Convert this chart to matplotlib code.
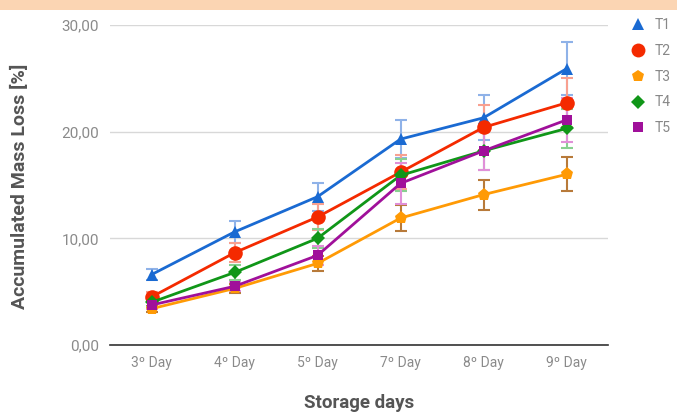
import matplotlib
matplotlib.use("Agg")
import matplotlib.pyplot as plt
from matplotlib.patches import Rectangle

days = ["3º Day", "4º Day", "5º Day", "7º Day", "8º Day", "9º Day"]
series_names = ["T1", "T2", "T3", "T4", "T5"]
t1 = [6.6, 10.6, 13.9, 19.3, 21.3, 25.9]
t2 = [4.5, 8.65, 12.0, 16.2, 20.4, 22.7]
t3 = [3.4, 5.3, 7.65, 11.9, 14.1, 16.0]
t4 = [4.0, 6.8, 10.0, 15.9, 18.2, 20.3]
t5 = [3.75, 5.5, 8.4, 15.15, 18.2, 21.1]
e1 = [0.5, 1.0, 1.3, 1.8, 2.1, 2.5]
e2 = [0.5, 0.9, 1.2, 1.6, 2.1, 2.3]
e3 = [0.3, 0.4, 0.7, 1.2, 1.4, 1.6]
e4 = [0.4, 0.7, 0.9, 1.5, 1.8, 1.8]
e5 = [0.4, 0.4, 0.9, 1.9, 1.8, 2.1]
y_ticks = [0, 10, 20, 30]
y_ticklabels = ["0,00", "10,00", "20,00", "30,00"]

values = [t1, t2, t3, t4, t5]
errors = [e1, e2, e3, e4, e5]
colors = ["#1a6ad2", "#f42a00", "#ff9a05", "#109618", "#a0109a"]
err_colors = ["#8fb2e8", "#f8a090", "#b87a3a", "#88d090", "#e090d8"]
markers = ["^", "o", "p", "D", "s"]
msizes = [9, 10.5, 9.5, 7.5, 7.5]
leg_sizes = [8.5, 10, 9, 7.5, 6.5]

plt.rcParams['font.family'] = ['Roboto', 'DejaVu Sans']

fig = plt.figure(figsize=(6.77, 4.13), dpi=100)
fig.patches.append(Rectangle((0, 1 - 10/413), 1, 10/413, transform=fig.transFigure,
                             facecolor="#fbd5b3", edgecolor="none", zorder=0))
ax = fig.add_axes([110/677, 1 - 345/413, 498/677, 320/413])

x = list(range(len(days)))
for name, v, e, c, ec, m, ms in zip(series_names, values, errors, colors, err_colors, markers, msizes):
    ax.errorbar(x, v, yerr=e, fmt="none", ecolor=ec, elinewidth=1.5, capsize=4.5, capthick=1.5, zorder=2)
    ax.plot(x, v, color=c, lw=2, marker=m, markersize=ms, markeredgewidth=0, label=name, zorder=3)

ax.set_xlim(-0.5, 5.5)
ax.set_ylim(0, 30)
ax.set_yticks(y_ticks)
ax.set_yticklabels(y_ticklabels)
ax.set_xticks(x)
ax.set_xticklabels(days)
ax.grid(axis="y", color="#d8d8d8", lw=1)
ax.set_axisbelow(True)
for s in ["top", "right", "left"]:
    ax.spines[s].set_visible(False)
ax.spines["bottom"].set_color("#333333")
ax.spines["bottom"].set_linewidth(1.2)
ax.tick_params(axis="y", length=0, pad=8, labelsize=11, labelcolor="#8a8a8a")
ax.tick_params(axis="x", length=0, pad=8, labelsize=10, labelcolor="#8a8a8a")

fig.text(20/677, 1 - 186/413, "Accumulated Mass Loss [%]", rotation=90, ha="center", va="center",
         fontsize=14, fontweight="bold", color="#555555")
fig.text(359/677, 1 - 403/413, "Storage days", ha="center", va="center",
         fontsize=13.5, fontweight="bold", color="#555555")

leg = fig.legend(loc="upper left", bbox_to_anchor=(631/677, 1 - 18/413), frameon=False,
                 fontsize=10, labelcolor="#888888", handlelength=1.0, handletextpad=0.7,
                 labelspacing=0.85, borderaxespad=0, borderpad=0)
for h, s in zip(leg.legend_handles, leg_sizes):
    h.set_linestyle("none")
    h.set_markersize(s)

fig.savefig("out.png", dpi=100)
